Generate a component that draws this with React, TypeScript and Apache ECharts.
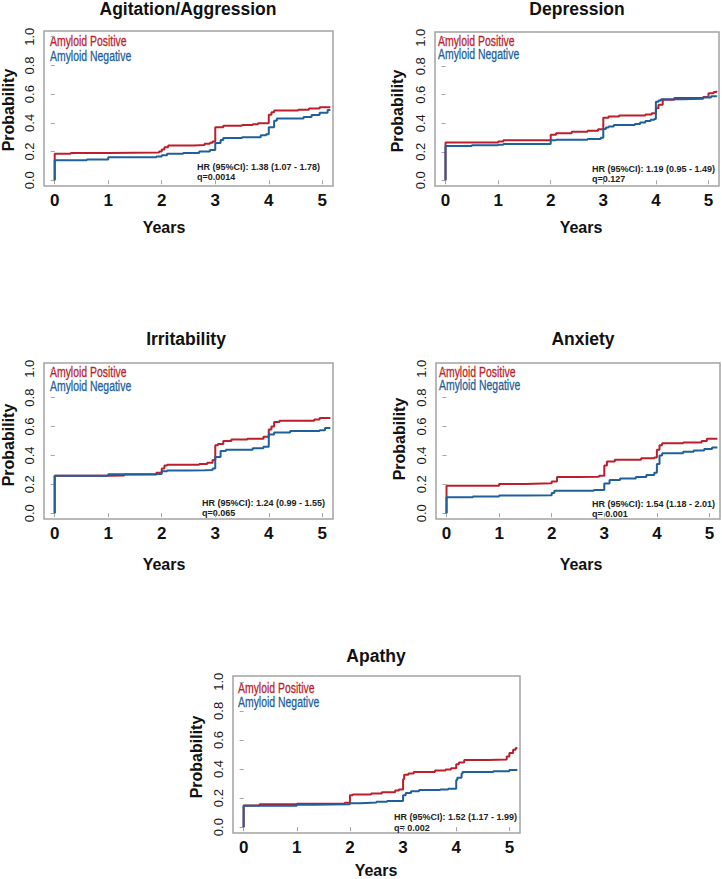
import React, { useEffect, useRef } from "react";
import * as echarts from "echarts";

// ---- data (years, cumulative probability) ----
const agitationPositive = [[0,0],[0,0.185],[0.3,0.19],[1.0,0.193],[1.95,0.2],[2.0,0.215],[2.05,0.23],[2.12,0.243],[2.6,0.245],[2.8,0.255],[2.9,0.262],[2.95,0.27],[3.0,0.37],[3.15,0.38],[3.5,0.385],[3.7,0.39],[3.8,0.398],[4.0,0.456],[4.05,0.474],[4.1,0.486],[4.55,0.492],[4.75,0.5],[4.95,0.508],[5.15,0.508]];
const agitationNegative = [[0,0],[0,0.14],[0.6,0.145],[1.0,0.16],[1.9,0.165],[2.0,0.175],[2.1,0.185],[2.4,0.19],[2.7,0.2],[2.9,0.21],[3.0,0.26],[3.1,0.28],[3.15,0.295],[3.5,0.3],[3.85,0.313],[3.95,0.32],[4.0,0.37],[4.1,0.415],[4.15,0.43],[4.65,0.44],[4.8,0.455],[4.95,0.47],[5.1,0.49],[5.15,0.49]];

const depressionPositive = [[0,0],[0,0.265],[1.0,0.272],[1.1,0.28],[2.0,0.32],[2.1,0.33],[2.4,0.34],[2.7,0.348],[2.9,0.358],[3.0,0.438],[3.1,0.448],[3.3,0.455],[3.8,0.462],[3.92,0.47],[4.0,0.505],[4.05,0.53],[4.13,0.565],[4.35,0.578],[4.9,0.585],[5.0,0.61],[5.1,0.62],[5.15,0.628]];
const depressionNegative = [[0,0],[0,0.24],[0.5,0.245],[1.0,0.25],[1.1,0.255],[2.0,0.28],[2.1,0.285],[2.7,0.29],[2.95,0.298],[3.0,0.36],[3.05,0.37],[3.1,0.378],[3.2,0.388],[3.6,0.395],[3.7,0.405],[3.8,0.415],[3.9,0.425],[3.97,0.43],[4.0,0.55],[4.05,0.56],[4.1,0.568],[4.5,0.572],[4.9,0.58],[5.05,0.59],[5.15,0.595]];

const irritabilityPositive = [[0,0],[0,0.26],[1.0,0.262],[1.3,0.268],[1.9,0.28],[2.0,0.31],[2.05,0.33],[2.1,0.335],[2.7,0.34],[2.85,0.35],[2.95,0.368],[3.0,0.47],[3.05,0.48],[3.15,0.5],[3.3,0.51],[3.6,0.515],[3.9,0.53],[4.0,0.58],[4.05,0.6],[4.1,0.632],[4.2,0.64],[4.85,0.648],[4.95,0.66],[5.15,0.66]];
const irritabilityNegative = [[0,0],[0,0.26],[1.0,0.27],[1.5,0.272],[2.0,0.29],[2.1,0.295],[2.5,0.298],[2.8,0.3],[2.95,0.31],[3.0,0.39],[3.1,0.43],[3.2,0.44],[3.7,0.45],[3.9,0.46],[4.0,0.545],[4.1,0.558],[4.4,0.57],[4.95,0.575],[5.05,0.59],[5.15,0.59]];

const anxietyPositive = [[0,0],[0,0.19],[1.0,0.203],[1.5,0.207],[2.0,0.22],[2.1,0.25],[2.5,0.252],[2.9,0.26],[3.0,0.33],[3.05,0.358],[3.2,0.37],[3.7,0.38],[3.95,0.385],[4.0,0.44],[4.05,0.47],[4.1,0.485],[4.5,0.49],[4.85,0.5],[4.95,0.515],[5.15,0.515]];
const anxietyNegative = [[0,0],[0,0.11],[0.5,0.115],[1.0,0.122],[1.5,0.125],[2.0,0.14],[2.05,0.155],[2.8,0.16],[3.0,0.205],[3.1,0.23],[3.3,0.24],[3.6,0.25],[3.8,0.265],[3.95,0.28],[4.0,0.34],[4.05,0.4],[4.1,0.415],[4.5,0.425],[4.7,0.435],[4.9,0.445],[5.05,0.455],[5.15,0.455]];

const apathyPositive = [[0,0],[0,0.15],[0.3,0.157],[1.0,0.162],[1.9,0.168],[2.0,0.22],[2.05,0.225],[2.4,0.231],[2.6,0.24],[2.85,0.252],[2.92,0.26],[3.0,0.33],[3.02,0.36],[3.1,0.37],[3.2,0.379],[3.6,0.39],[3.8,0.396],[3.9,0.405],[4.0,0.433],[4.05,0.445],[4.15,0.462],[4.6,0.465],[4.95,0.486],[5.0,0.51],[5.07,0.532],[5.12,0.544],[5.15,0.544]];
const apathyNegative = [[0,0],[0,0.148],[1.0,0.155],[1.3,0.158],[2.0,0.165],[2.2,0.169],[2.5,0.175],[2.7,0.18],[3.0,0.22],[3.05,0.236],[3.15,0.248],[3.3,0.255],[3.7,0.26],[3.85,0.265],[4.0,0.324],[4.02,0.34],[4.1,0.37],[4.12,0.379],[4.7,0.385],[5.0,0.393],[5.15,0.393]];

const titles = ["Agitation/Aggression", "Depression", "Irritability", "Anxiety", "Apathy"];
const hrTexts = ["HR (95%CI): 1.38 (1.07 - 1.78)", "HR (95%CI): 1.19 (0.95 - 1.49)", "HR (95%CI): 1.24 (0.99 - 1.55)", "HR (95%CI): 1.54 (1.18 - 2.01)", "HR (95%CI): 1.52 (1.17 - 1.99)"];
const qTexts = ["q=0.0014", "q=0.127", "q=0.065", "q= 0.001", "q= 0.002"];
const legendNames = ["Amyloid Positive", "Amyloid Negative"];
const xTicks = [0, 1, 2, 3, 4, 5];
const yTicks = [0, 0.2, 0.4, 0.6, 0.8, 1.0];
const yTickLabels = ["0.0", "0.2", "0.4", "0.6", "0.8", "1.0"];
const xAxisTitle = "Years";
const yAxisTitle = "Probability";

const positiveSeries = [agitationPositive, depressionPositive, irritabilityPositive, anxietyPositive, apathyPositive];
const negativeSeries = [agitationNegative, depressionNegative, irritabilityNegative, anxietyNegative, apathyNegative];

// ---- layout ----
const RED = "#BC1F2B";
const BLUE = "#1F5F9C";
const SANS = "'Liberation Sans', Arial, sans-serif";

const layout = [
  { grid: { left: 44, top: 31, width: 289, height: 155 }, title: [188, 9], years: [164, 227], prob: [8.5, 110], legend: [50, 41, 56], hr: [197, 167, 177] },
  { grid: { left: 435, top: 32, width: 284, height: 154 }, title: [577, 9], years: [581, 227], prob: [397, 111], legend: [438, 41, 54], hr: [592, 169, 179] },
  { grid: { left: 44, top: 363, width: 289, height: 156 }, title: [186, 339], years: [164, 564], prob: [8, 445], legend: [50, 372, 386], hr: [202, 503, 513] },
  { grid: { left: 436, top: 363, width: 284, height: 156 }, title: [583, 339], years: [581, 564], prob: [399, 439], legend: [439, 372, 385], hr: [592, 504, 514] },
  { grid: { left: 233, top: 676, width: 287, height: 157 }, title: [376, 656], years: [376, 870], prob: [196, 757], legend: [238, 688, 702], hr: [394, 817, 828] },
];

function buildOption() {
  const grids: any[] = [];
  const xAxes: any[] = [];
  const yAxes: any[] = [];
  const series: any[] = [];
  const graphics: any[] = [];

  layout.forEach((l, i) => {
    grids.push({ ...l.grid, show: true, borderColor: "#A3A3A3", borderWidth: 1.5, backgroundColor: "transparent", containLabel: false });
    xAxes.push({
      type: "value", gridIndex: i, min: -0.2, max: 5.2,
      axisLine: { show: false },
      splitLine: { show: false },
      axisTick: { show: true, inside: false, length: 4, customValues: xTicks, lineStyle: { color: "#A3A3A3", width: 1 } },
      axisLabel: { show: true, customValues: xTicks, margin: 6, fontSize: 17, fontWeight: "bold", color: "#111", fontFamily: SANS, formatter: (v: number) => String(Math.round(v)) },
    });
    yAxes.push({
      type: "value", gridIndex: i, min: -0.04, max: 1.04,
      axisLine: { show: false },
      splitLine: { show: false },
      axisTick: { show: true, inside: false, length: 4, customValues: yTicks, lineStyle: { color: "#A3A3A3", width: 1 } },
      axisLabel: {
        show: true, customValues: yTicks, rotate: 90, margin: 8, fontSize: 13, color: "#1a1a1a", fontFamily: SANS,
        formatter: (v: number) => { const k = yTicks.findIndex((t) => Math.abs(t - v) < 1e-6); return k >= 0 ? yTickLabels[k] : ""; },
      },
    });
    series.push({
      type: "line", name: legendNames[0], xAxisIndex: i, yAxisIndex: i, step: "end", showSymbol: false, symbol: "none",
      data: positiveSeries[i], lineStyle: { color: RED, width: 2 }, itemStyle: { color: RED }, z: 2,
    });
    series.push({
      type: "line", name: legendNames[1], xAxisIndex: i, yAxisIndex: i, step: "end", showSymbol: false, symbol: "none",
      data: negativeSeries[i], lineStyle: { color: BLUE, width: 2 }, itemStyle: { color: BLUE }, z: 3,
    });

    graphics.push({ type: "text", x: l.title[0], y: l.title[1], style: { text: titles[i], fontSize: 17.5, fontWeight: "bold", fontFamily: SANS, fill: "#111", align: "center", verticalAlign: "middle" } });
    graphics.push({ type: "text", x: l.years[0], y: l.years[1], style: { text: xAxisTitle, fontSize: 16, fontWeight: "bold", fontFamily: SANS, fill: "#111", align: "center", verticalAlign: "middle" } });
    graphics.push({ type: "text", x: l.prob[0], y: l.prob[1], rotation: Math.PI / 2, style: { text: yAxisTitle, fontSize: 16, fontWeight: "bold", fontFamily: SANS, fill: "#111", align: "center", verticalAlign: "middle" } });
    graphics.push({ type: "text", x: l.legend[0], y: l.legend[1], scaleX: 0.72, style: { text: legendNames[0], fontSize: 14.5, fontFamily: SANS, fill: RED, stroke: RED, lineWidth: 0.3, align: "left", verticalAlign: "middle" } });
    graphics.push({ type: "text", x: l.legend[0], y: l.legend[2], scaleX: 0.72, style: { text: legendNames[1], fontSize: 14.5, fontFamily: SANS, fill: BLUE, stroke: BLUE, lineWidth: 0.3, align: "left", verticalAlign: "middle" } });
    graphics.push({ type: "text", x: l.hr[0], y: l.hr[1], style: { text: hrTexts[i], fontSize: 9, fontWeight: "bold", fontFamily: SANS, fill: "#222", align: "left", verticalAlign: "middle" } });
    graphics.push({ type: "text", x: l.hr[0], y: l.hr[2], style: { text: qTexts[i], fontSize: 9, fontWeight: "bold", fontFamily: SANS, fill: "#222", align: "left", verticalAlign: "middle" } });
  });

  return {
    animation: false,
    backgroundColor: "#ffffff",
    grid: grids,
    xAxis: xAxes,
    yAxis: yAxes,
    series,
    graphic: graphics,
  };
}

export default function App() {
  const ref = useRef<HTMLDivElement>(null);
  useEffect(() => {
    if (!ref.current) return;
    const chart = echarts.init(ref.current, undefined, { renderer: "svg" });
    chart.setOption(buildOption() as any);
    return () => chart.dispose();
  }, []);
  return <div ref={ref} style={{ position: "absolute", left: 0, top: 0, width: 722, height: 879 }} />;
}
